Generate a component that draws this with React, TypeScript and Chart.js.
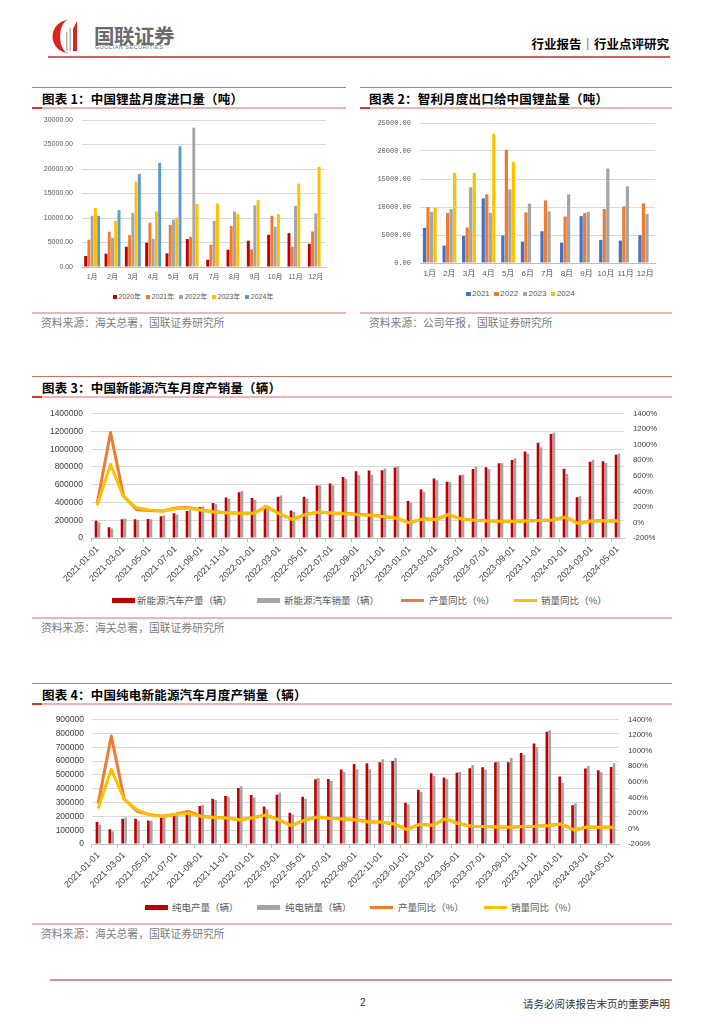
import React, { useEffect, useRef } from 'react';
import { Chart, registerables } from 'chart.js';

Chart.register(...registerables);
Chart.defaults.font.family = '"Liberation Sans", "Noto Sans CJK SC", sans-serif';

// ---------- Chart 1: 中国锂盐月度进口量（吨）
const monthLabels = ['1月', '2月', '3月', '4月', '5月', '6月', '7月', '8月', '9月', '10月', '11月', '12月'];
const import2020 = [2240, 2720, 4140, 4950, 2780, 5700, 1490, 3530, 5360, 6580, 6920, 4750];
const import2021 = [5560, 7190, 6510, 9030, 8620, 6180, 4550, 8350, 3600, 10450, 4140, 7260];
const import2022 = [10450, 5970, 11060, 5770, 9700, 28440, 9430, 11330, 12560, 8210, 12490, 10930];
const import2023 = [12080, 9430, 17440, 11330, 10110, 12830, 12960, 10860, 13710, 10790, 17030, 20430];
const import2024 = [10450, 11600, 19000, 21240, 24640, null, null, null, null, null, null, null];

// ---------- Chart 2: 智利月度出口给中国锂盐量（吨）
const chile2021 = [6280, 3110, 4850, 11540, 4900, 3830, 5680, 3650, 8370, 4130, 4010, 4960];
const chile2022 = [9990, 8910, 6340, 12260, 20220, 9030, 11180, 8310, 8910, 9630, 10110, 10650];
const chile2023 = [9150, 9630, 13520, 8970, 13160, 10590, 9210, 12260, 9150, 16870, 13700, 8730];
const chile2024 = [9870, 16090, 16090, 23030, 18060, null, null, null, null, null, null, null];

// ---------- Chart 3 / 4 months
const evMonths = [
  '2021-01-01', '2021-02-01', '2021-03-01', '2021-04-01', '2021-05-01', '2021-06-01', '2021-07-01',
  '2021-08-01', '2021-09-01', '2021-10-01', '2021-11-01', '2021-12-01', '2022-01-01', '2022-02-01',
  '2022-03-01', '2022-04-01', '2022-05-01', '2022-06-01', '2022-07-01', '2022-08-01', '2022-09-01',
  '2022-10-01', '2022-11-01', '2022-12-01', '2023-01-01', '2023-02-01', '2023-03-01', '2023-04-01',
  '2023-05-01', '2023-06-01', '2023-07-01', '2023-08-01', '2023-09-01', '2023-10-01', '2023-11-01',
  '2023-12-01', '2024-01-01', '2024-02-01', '2024-03-01', '2024-04-01', '2024-05-01',
];

// ---------- Chart 3: 中国新能源汽车月度产销量（辆）
const nevProduction = [
  195000, 120000, 210000, 212000, 215000, 245000, 278000, 305000, 350000, 395000, 455000, 515000,
  450000, 365000, 465000, 310000, 465000, 590000, 615000, 688000, 752000, 759000, 762000, 793000,
  418000, 546000, 670000, 633000, 707000, 778000, 796000, 841000, 878000, 975000, 1072000, 1170000,
  781000, 459000, 859000, 863000, 937000,
];
const nevSales = [
  178000, 106000, 220000, 200000, 210000, 254000, 266000, 322000, 354000, 380000, 443000, 528000,
  430000, 352000, 480000, 295000, 446000, 594000, 595000, 664000, 706000, 712000, 782000, 808000,
  398000, 520000, 650000, 627000, 716000, 802000, 778000, 843000, 898000, 948000, 1020000, 1189000,
  722000, 470000, 881000, 845000, 952000,
];
const nevProductionYoy = [
  265, 1159, 342, 168, 155, 146, 185, 194, 160, 138, 126, 119,
  121, 200, 112, 40, 104, 131, 121, 118, 106, 95, 78, 56,
  -6, 47, 38, 101, 46, 30, 21, 17, 16, 22, 25, 33,
  70, -12, 21, 23, 20,
];
const nevSalesYoy = [
  235, 748, 330, 188, 160, 148, 176, 185, 158, 136, 122, 120,
  117, 206, 109, 37, 100, 134, 122, 113, 100, 92, 75, 54,
  -5, 45, 37, 105, 45, 28, 20, 16, 16, 20, 24, 33,
  67, -14, 20, 24, 20,
];

// ---------- Chart 4: 中国纯电新能源汽车月度产销量（辆）
const bevProduction = [
  159000, 107000, 183000, 183000, 171000, 192000, 218000, 240000, 275000, 328000, 347000, 406000,
  354000, 271000, 356000, 226000, 342000, 468000, 470000, 539000, 579000, 584000, 591000, 601000,
  299000, 392000, 513000, 482000, 515000, 549000, 556000, 591000, 591000, 658000, 727000, 812000,
  489000, 280000, 546000, 534000, 558000,
];
const bevSales = [
  142000, 93000, 192000, 171000, 169000, 195000, 207000, 225000, 283000, 318000, 342000, 418000,
  337000, 249000, 373000, 214000, 328000, 477000, 458000, 522000, 541000, 541000, 613000, 622000,
  287000, 378000, 492000, 470000, 522000, 572000, 539000, 598000, 625000, 646000, 701000, 824000,
  444000, 294000, 565000, 520000, 584000,
];
const bevProductionYoy = [
  336, 1189, 383, 222, 178, 156, 183, 218, 157, 143, 135, 111,
  139, 174, 113, 37, 105, 147, 131, 125, 115, 86, 84, 58,
  -13, 54, 41, 126, 63, 29, 25, 20, 16, 25, 29, 37,
  58, -18, 20, 16, 16,
];
const bevSalesYoy = [
  273, 760, 376, 239, 176, 155, 180, 197, 155, 142, 134, 108,
  138, 172, 112, 36, 104, 146, 129, 121, 108, 83, 83, 57,
  -14, 53, 40, 125, 62, 28, 24, 19, 15, 24, 28, 36,
  57, -19, 19, 15, 15,
];

const GRID = '#d9d9d9';
const AXIS = '#bfbfbf';

function ChartBox(props: any) {
  const { left, top, width, height, make } = props;
  const ref = useRef<HTMLCanvasElement>(null);
  useEffect(() => {
    const chart = new Chart(ref.current as HTMLCanvasElement, make());
    return () => chart.destroy();
  }, []);
  return (
    <canvas
      ref={ref}
      width={width}
      height={height}
      style={{ position: 'absolute', left, top, width, height }}
    />
  );
}

function yearBarConfig(opts: any) {
  const { series, yMax, yW, padR, padT, xH, yFont, xFont, catPct, barPct } = opts;
  return {
    type: 'bar',
    data: {
      labels: monthLabels,
      datasets: series.map((s: any) => ({
        label: s.label,
        data: s.data,
        backgroundColor: s.color,
        categoryPercentage: catPct,
        barPercentage: barPct,
      })),
    },
    options: {
      animation: false,
      responsive: false,
      maintainAspectRatio: false,
      layout: { padding: { top: padT, right: padR, left: 0, bottom: 0 } },
      plugins: { legend: { display: false }, tooltip: { enabled: false } },
      scales: {
        x: {
          grid: { display: false, drawTicks: false },
          border: { display: true, color: AXIS, width: 1 },
          ticks: { color: '#595959', font: xFont, padding: 6, maxRotation: 0, autoSkip: false },
          afterFit: (s: any) => { s.height = xH; },
        },
        y: {
          min: 0,
          max: yMax,
          ticks: {
            stepSize: 5000,
            callback: (v: any) => Number(v).toFixed(2),
            color: '#595959',
            font: yFont,
            padding: 9,
          },
          grid: { color: GRID, lineWidth: 1, drawTicks: false },
          border: { display: false },
          afterFit: (s: any) => { s.width = yW; },
        },
      },
    },
  };
}

function comboConfig(opts: any) {
  const { prod, sales, prodYoy, salesYoy, prodLabel, salesLabel, yMax, yStep, yW, yRW, padT, xH } = opts;
  return {
    type: 'bar',
    data: {
      labels: evMonths,
      datasets: [
        {
          type: 'line', label: '销量同比（%）', data: salesYoy, yAxisID: 'y1', order: 0,
          borderColor: '#FFC000', backgroundColor: '#FFC000', borderWidth: 3, pointRadius: 0,
          tension: 0, borderJoinStyle: 'round', borderCapStyle: 'round', fill: false,
        },
        {
          type: 'line', label: '产量同比（%）', data: prodYoy, yAxisID: 'y1', order: 1,
          borderColor: '#ED7D31', backgroundColor: '#ED7D31', borderWidth: 3, pointRadius: 0,
          tension: 0, borderJoinStyle: 'round', borderCapStyle: 'round', fill: false,
        },
        {
          type: 'bar', label: prodLabel, data: prod, yAxisID: 'y', order: 2,
          backgroundColor: '#C00000', categoryPercentage: 0.45, barPercentage: 0.92,
        },
        {
          type: 'bar', label: salesLabel, data: sales, yAxisID: 'y', order: 3,
          backgroundColor: '#A5A5A5', categoryPercentage: 0.45, barPercentage: 0.92,
        },
      ],
    },
    options: {
      animation: false,
      responsive: false,
      maintainAspectRatio: false,
      layout: { padding: { top: padT, right: 0, left: 0, bottom: 0 } },
      plugins: { legend: { display: false }, tooltip: { enabled: false } },
      scales: {
        x: {
          offset: true,
          grid: {
            offset: true,
            drawOnChartArea: false,
            drawTicks: true,
            tickLength: 4,
            color: (c: any) => (c.index % 2 === 0 ? AXIS : 'rgba(0,0,0,0)'),
          },
          border: { display: true, color: AXIS, width: 1 },
          ticks: {
            autoSkip: false,
            minRotation: 45,
            maxRotation: 45,
            padding: 2,
            color: '#404040',
            font: { size: 9 },
            callback: (_v: any, i: number) => (i % 2 === 0 ? evMonths[i] : ''),
          },
          afterFit: (s: any) => { s.height = xH; },
        },
        y: {
          position: 'left',
          min: 0,
          max: yMax,
          ticks: {
            stepSize: yStep, color: '#404040', font: { size: 8.5 }, padding: 8,
            callback: (v: any) => String(v),
          },
          grid: { color: GRID, lineWidth: 1, drawTicks: false },
          border: { display: false },
          afterFit: (s: any) => { s.width = yW; },
        },
        y1: {
          position: 'right',
          min: -200,
          max: 1400,
          ticks: { stepSize: 200, color: '#404040', font: { size: 7.8 }, padding: 9, callback: (v: any) => v + '%' },
          grid: { drawOnChartArea: false, drawTicks: false },
          border: { display: false },
          afterFit: (s: any) => { s.width = yRW; },
        },
      },
    },
  };
}

const CJK = '"Noto Sans CJK SC", "Liberation Sans", sans-serif';

function Txt(props: any) {
  const { x, y, size, color = '#000', weight = 400, right, children, family = CJK, spacing = 0 } = props;
  const style: any = {
    position: 'absolute',
    top: y - size,
    height: size * 2,
    lineHeight: size * 2 + 'px',
    fontSize: size,
    color,
    fontWeight: weight,
    fontFamily: family,
    whiteSpace: 'nowrap',
    letterSpacing: spacing,
  };
  if (right !== undefined) style.right = 724 - right;
  else style.left = x;
  return <div style={style}>{children}</div>;
}

function Rect(props: any) {
  const { x, y, w, h, c } = props;
  return <div style={{ position: 'absolute', left: x, top: y, width: w, height: h, background: c }} />;
}

function SectionHead(props: any) {
  const { x1, x2, y, title, tx } = props;
  return (
    <>
      <Rect x={x1} y={y} w={x2 - x1} h={1} c="#d86a6a" />
      <Txt x={tx} y={y + 11} size={12.5} weight={700} color="#000" spacing={0.2}>{title}</Txt>
      <Rect x={x1} y={y + 20} w={x2 - x1} h={2} c="#efb3b3" />
      <Rect x={x1} y={y + 20} w={10} h={2} c="#d33" />
    </>
  );
}

function SourceLine(props: any) {
  const { x1, x2, y, text, tx } = props;
  return (
    <>
      <Rect x={x1} y={y} w={x2 - x1} h={1.5} c="#efb3b3" />
      <Txt x={tx} y={y + 11} size={10.8} color="#808080">{text}</Txt>
    </>
  );
}

function SquareLegend(props: any) {
  const { x, y, items, size, box, gap } = props;
  return (
    <div style={{ position: 'absolute', left: x, top: y - 7, height: 14, display: 'flex', alignItems: 'center', gap }}>
      {items.map((it: any) => (
        <div key={it.label} style={{ display: 'flex', alignItems: 'center' }}>
          <div style={{ width: box, height: box, background: it.color, marginRight: 1.5 }} />
          <span style={{ fontSize: size, color: '#595959', fontFamily: '"Liberation Sans", "Noto Sans CJK SC", sans-serif', lineHeight: '14px' }}>
            {it.label}
          </span>
        </div>
      ))}
    </div>
  );
}

function ComboLegend(props: any) {
  const { y, items } = props;
  return (
    <>
      {items.map((it: any) => (
        <React.Fragment key={it.label}>
          <Rect x={it.sx} y={y - (it.line ? 1.5 : 2.5)} w={23} h={it.line ? 3 : 5} c={it.color} />
          <Txt x={it.tx} y={y} size={9.5} color="#595959">{it.label}</Txt>
        </React.Fragment>
      ))}
    </>
  );
}

export default function App() {
  return (
    <div
      style={{
        position: 'absolute', left: 0, top: 0, width: 724, height: 1024,
        background: '#fff', overflow: 'hidden', fontFamily: CJK,
      }}
    >
      {/* Header */}
      <svg style={{ position: 'absolute', left: 52, top: 19 }} width={34} height={35} viewBox="0 0 34 35">
        <path d="M17 1 A16.5 16.5 0 0 0 17 34 A9 16.5 0 0 1 17 1 Z" fill="#d7261e" />
        <rect x="14" y="13" width="1.6" height="19" fill="#b5b5b5" />
        <rect x="17.5" y="9" width="1.6" height="23" fill="#b5b5b5" />
        <path d="M21 32 L21 10 L25 2 L25 32 Z" fill="#d7261e" />
      </svg>
      <Txt x={94} y={35} size={20.5} weight={700} color="#6b6b6b" spacing={-0.5}>国联证券</Txt>
      <Txt x={95} y={47.5} size={5.6} color="#6b6b6b" family='"Liberation Sans", sans-serif' spacing={0.45}>GUOLIAN SECURITIES</Txt>
      <Txt right={669} y={43} size={12.5} weight={700} color="#000">行业报告｜行业点评研究</Txt>
      <Rect x={48} y={56} w={622} h={2} c="#d96060" />

      {/* Chart 1 */}
      <SectionHead x1={32} x2={346} y={87} tx={42} title="图表 1：中国锂盐月度进口量（吨）" />
      <ChartBox
        left={32} top={105} width={314} height={185}
        make={() => yearBarConfig({
          series: [
            { label: '2020年', data: import2020, color: '#C00000' },
            { label: '2021年', data: import2021, color: '#ED7D31' },
            { label: '2022年', data: import2022, color: '#A5A5A5' },
            { label: '2023年', data: import2023, color: '#FFC000' },
            { label: '2024年', data: import2024, color: '#5B9BD5' },
          ],
          yMax: 30000, yW: 50, padR: 20, padT: 15, xH: 23,
          yFont: { size: 7 }, xFont: { size: 7 }, catPct: 0.8, barPct: 0.9,
        })}
      />
      <SquareLegend
        x={113} y={297} size={7} box={4} gap={5}
        items={[
          { label: '2020年', color: '#C00000' },
          { label: '2021年', color: '#ED7D31' },
          { label: '2022年', color: '#A5A5A5' },
          { label: '2023年', color: '#FFC000' },
          { label: '2024年', color: '#5B9BD5' },
        ]}
      />
      <SourceLine x1={32} x2={346} y={312} tx={41} text="资料来源：海关总署，国联证券研究所" />

      {/* Chart 2 */}
      <SectionHead x1={360} x2={672} y={87} tx={369} title="图表 2：智利月度出口给中国锂盐量（吨）" />
      <ChartBox
        left={360} top={108} width={312} height={178}
        make={() => yearBarConfig({
          series: [
            { label: '2021', data: chile2021, color: '#4472C4' },
            { label: '2022', data: chile2022, color: '#ED7D31' },
            { label: '2023', data: chile2023, color: '#A5A5A5' },
            { label: '2024', data: chile2024, color: '#FFC000' },
          ],
          yMax: 25000, yW: 60, padR: 17, padT: 15, xH: 23,
          yFont: { size: 7, family: '"Liberation Mono", monospace' }, xFont: { size: 8 }, catPct: 0.72, barPct: 0.92,
        })}
      />
      <SquareLegend
        x={466} y={294} size={8} box={4.5} gap={4.5}
        items={[
          { label: '2021', color: '#4472C4' },
          { label: '2022', color: '#ED7D31' },
          { label: '2023', color: '#A5A5A5' },
          { label: '2024', color: '#FFC000' },
        ]}
      />
      <SourceLine x1={360} x2={672} y={312} tx={369} text="资料来源：公司年报，国联证券研究所" />

      {/* Chart 3 */}
      <SectionHead x1={32} x2={672} y={376} tx={42} title="图表 3：中国新能源汽车月度产销量（辆）" />
      <ChartBox
        left={32} top={400} width={640} height={190}
        make={() => comboConfig({
          prod: nevProduction, sales: nevSales, prodYoy: nevProductionYoy, salesYoy: nevSalesYoy,
          prodLabel: '新能源汽车产量（辆）', salesLabel: '新能源汽车销量（辆）',
          yMax: 1400000, yStep: 200000, yW: 59, yRW: 48, padT: 12, xH: 52,
        })}
      />
      <ComboLegend
        y={600}
        items={[
          { label: '新能源汽车产量（辆）', color: '#C00000', sx: 112, tx: 137 },
          { label: '新能源汽车销量（辆）', color: '#A5A5A5', sx: 257, tx: 284 },
          { label: '产量同比（%）', color: '#ED7D31', sx: 401, tx: 429, line: true },
          { label: '销量同比（%）', color: '#FFC000', sx: 514, tx: 541, line: true },
        ]}
      />
      <SourceLine x1={32} x2={672} y={617} tx={41} text="资料来源：海关总署，国联证券研究所" />

      {/* Chart 4 */}
      <SectionHead x1={32} x2={672} y={683} tx={42} title="图表 4：中国纯电新能源汽车月度产销量（辆）" />
      <ChartBox
        left={32} top={706} width={640} height={190}
        make={() => comboConfig({
          prod: bevProduction, sales: bevSales, prodYoy: bevProductionYoy, salesYoy: bevSalesYoy,
          prodLabel: '纯电产量（辆）', salesLabel: '纯电销量（辆）',
          yMax: 900000, yStep: 100000, yW: 60, yRW: 53, padT: 12, xH: 52,
        })}
      />
      <ComboLegend
        y={907}
        items={[
          { label: '纯电产量（辆）', color: '#C00000', sx: 145, tx: 172 },
          { label: '纯电销量（辆）', color: '#A5A5A5', sx: 257, tx: 285 },
          { label: '产量同比（%）', color: '#ED7D31', sx: 370, tx: 398, line: true },
          { label: '销量同比（%）', color: '#FFC000', sx: 484, tx: 511, line: true },
        ]}
      />
      <SourceLine x1={32} x2={672} y={923} tx={41} text="资料来源：海关总署，国联证券研究所" />

      {/* Footer */}
      <Rect x={50} y={979} w={622} h={1.5} c="#e08a8a" />
      <Txt x={360} y={1003} size={10} color="#333" family='"Liberation Sans", sans-serif'>2</Txt>
      <Txt right={670} y={1003} size={10.5} color="#333">请务必阅读报告末页的重要声明</Txt>
    </div>
  );
}
